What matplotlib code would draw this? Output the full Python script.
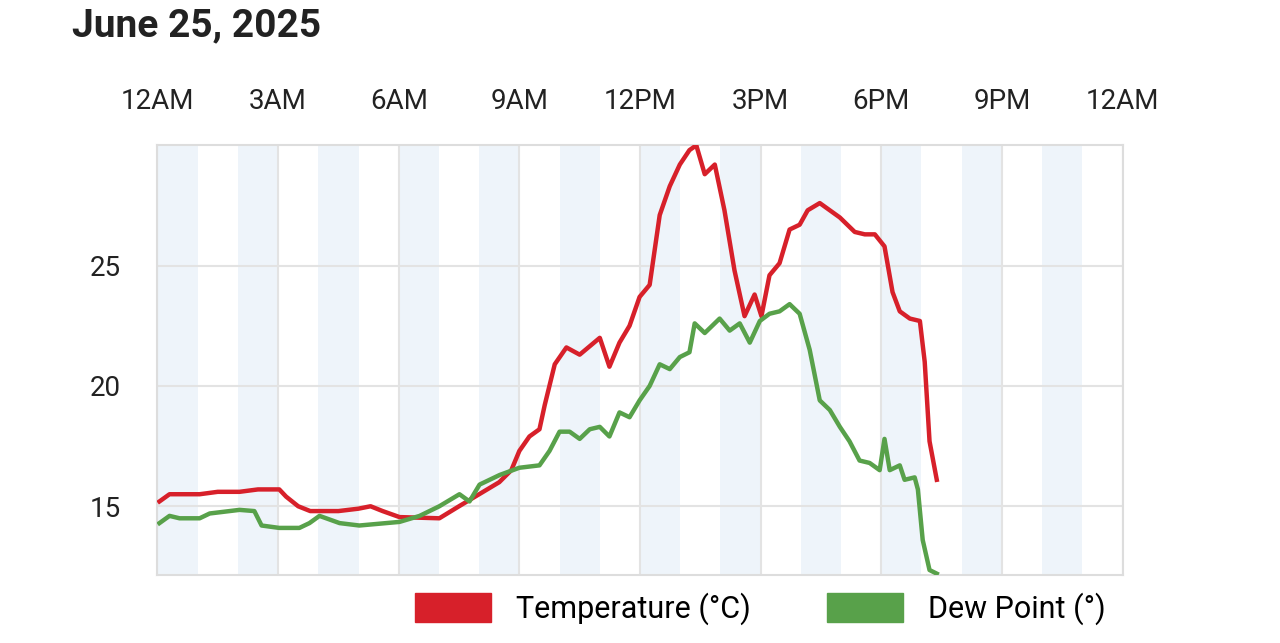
import matplotlib.pyplot as plt
from matplotlib.patches import Patch

plt.rcParams['font.family'] = ['Roboto', 'DejaVu Sans']

temp_h = [0.05, 0.3, 0.55, 1.05, 1.5, 2.04, 2.5, 3.03, 3.2, 3.5, 3.8, 4.5, 5.0, 5.3, 5.6,
          6.02, 7.01, 7.5, 8.0, 8.5, 8.8, 9.0, 9.25, 9.5, 9.63, 9.88, 10.17, 10.5, 11.0,
          11.24, 11.49, 11.74, 11.99, 12.24, 12.49, 12.74, 12.99, 13.23, 13.4, 13.61,
          13.86, 14.1, 14.35, 14.6, 14.85, 15.02, 15.22, 15.47, 15.72, 15.97, 16.17,
          16.47, 16.72, 16.97, 17.34, 17.59, 17.84, 18.08, 18.28, 18.46, 18.71, 18.96,
          19.08, 19.2, 19.38]
temp = [15.2, 15.5, 15.5, 15.5, 15.6, 15.6, 15.7, 15.7, 15.4, 15.0, 14.8, 14.8, 14.9,
        15.0, 14.8, 14.55, 14.5, 15.0, 15.5, 16.0, 16.5, 17.3, 17.9, 18.2, 19.2, 20.9,
        21.6, 21.3, 22.0, 20.8, 21.8, 22.5, 23.7, 24.2, 27.1, 28.3, 29.2, 29.8, 30.0,
        28.8, 29.2, 27.3, 24.8, 22.9, 23.8, 22.9, 24.6, 25.1, 26.5, 26.7, 27.3, 27.6,
        27.3, 27.0, 26.4, 26.3, 26.3, 25.8, 23.9, 23.1, 22.8, 22.7, 21.0, 17.7, 16.1]
dew_h = [0.05, 0.3, 0.55, 1.05, 1.3, 2.04, 2.41, 2.59, 3.03, 3.53, 3.78, 4.03, 4.53,
         5.02, 6.02, 6.52, 7.01, 7.51, 7.76, 8.01, 8.51, 9.0, 9.5, 9.75, 10.0, 10.25,
         10.5, 10.75, 11.0, 11.24, 11.49, 11.74, 11.99, 12.24, 12.49, 12.74, 12.99,
         13.23, 13.36, 13.61, 13.98, 14.23, 14.48, 14.73, 14.98, 15.22, 15.47, 15.72,
         15.97, 16.22, 16.47, 16.72, 16.97, 17.21, 17.46, 17.71, 17.96, 18.08, 18.21,
         18.46, 18.58, 18.83, 18.91, 19.03, 19.2, 19.38]
dew = [14.3, 14.6, 14.5, 14.5, 14.7, 14.85, 14.8, 14.2, 14.1, 14.1, 14.3, 14.6, 14.3,
       14.2, 14.35, 14.6, 15.0, 15.5, 15.2, 15.9, 16.3, 16.6, 16.7, 17.3, 18.1, 18.1,
       17.8, 18.2, 18.3, 17.9, 18.9, 18.7, 19.4, 20.0, 20.9, 20.7, 21.2, 21.4, 22.6,
       22.2, 22.8, 22.3, 22.6, 21.8, 22.7, 23.0, 23.1, 23.4, 23.0, 21.5, 19.4, 19.0,
       18.3, 17.7, 16.9, 16.8, 16.5, 17.8, 16.5, 16.7, 16.1, 16.2, 15.7, 13.6, 12.35,
       12.2]

tick_labels = ['12AM', '3AM', '6AM', '9AM', '12PM', '3PM', '6PM', '9PM', '12AM']

fig = plt.figure(figsize=(12.8, 6.43), dpi=100)
ax = fig.add_axes([0.123, 0.106, 0.754, 0.668])

for h in range(0, 24, 2):
    ax.axvspan(h, h + 1, color='#eef4fa', lw=0, zorder=0)
for h in range(0, 25, 3):
    ax.axvline(h, color='#e3e3e3', lw=1.5, zorder=1)
for y in [15, 20, 25]:
    ax.axhline(y, color='#e3e3e3', lw=1.5, zorder=1)

ax.plot(temp_h, temp, color='#d7202a', lw=3.2, zorder=3)
ax.plot(dew_h, dew, color='#58a14a', lw=3.2, zorder=3)

ax.set_xlim(0, 24)
ax.set_ylim(12.15, 30)
ax.set_xticks(range(0, 25, 3))
ax.set_xticklabels(tick_labels)
ax.xaxis.tick_top()
ax.set_yticks([15, 20, 25])
ax.tick_params(length=0, labelsize=20, colors='#222222')
ax.tick_params(axis='x', pad=22)
ax.tick_params(axis='y', pad=26)
for s in ax.spines.values():
    s.set_color('#dddddd')
    s.set_linewidth(1.5)

fig.text(0.056, 0.96, 'June 25, 2025', fontsize=28, fontweight='bold', va='center', color='#222222')

handles = [Patch(color='#d7202a', label='Temperature (°C)'), Patch(color='#58a14a', label='Dew Point (°)')]
fig.legend(handles=handles, loc='lower right', bbox_to_anchor=(0.885, -0.015), ncol=2,
           frameon=False, fontsize=22, handlelength=2.5, handleheight=1.1, columnspacing=2.5)

fig.savefig('out.png', dpi=100)
